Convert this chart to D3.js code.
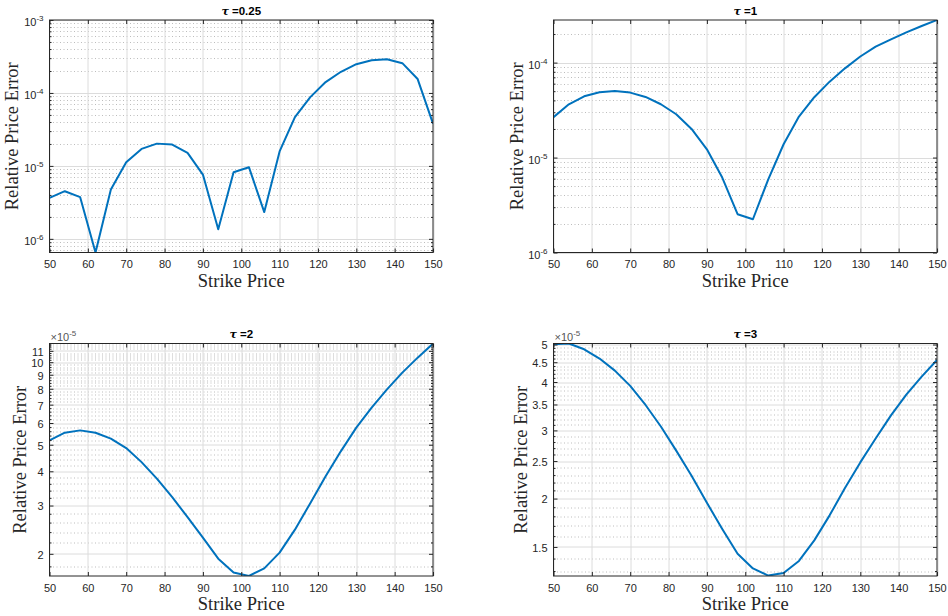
<!DOCTYPE html>
<html><head><meta charset="utf-8">
<script src="https://cdn.jsdelivr.net/npm/d3@7"></script>
<style>
html,body{margin:0;padding:0;background:#fff;}
svg{display:block;}
</style></head>
<body>
<svg id="chart" width="948" height="616"></svg>
<script>
// ---------------- data ----------------
const strikes = [50,54,58,62,66,70,74,78,82,86,90,94,98,102,106,110,114,118,122,126,130,134,138,142,146,150];
const errTau025 = [3.65e-6,4.5e-6,3.73e-6,6.5e-7,4.75e-6,1.12e-5,1.71e-5,2.02e-5,1.96e-5,1.51e-5,7.6e-6,1.35e-6,8.2e-6,9.6e-6,2.33e-6,1.58e-5,4.67e-5,8.77e-5,1.41e-4,1.95e-4,2.48e-4,2.81e-4,2.9e-4,2.56e-4,1.55e-4,3.79e-5];
const errTau1 = [2.66e-5,3.64e-5,4.42e-5,4.88e-5,5.03e-5,4.83e-5,4.35e-5,3.64e-5,2.86e-5,2.0e-5,1.22e-5,6.15e-6,2.53e-6,2.24e-6,5.9e-6,1.38e-5,2.7e-5,4.32e-5,6.3e-5,8.7e-5,1.16e-4,1.47e-4,1.76e-4,2.08e-4,2.43e-4,2.81e-4];
const errTau2 = [5.19e-5,5.53e-5,5.64e-5,5.53e-5,5.26e-5,4.86e-5,4.32e-5,3.76e-5,3.22e-5,2.72e-5,2.29e-5,1.92e-5,1.71e-5,1.66e-5,1.77e-5,2.02e-5,2.45e-5,3.06e-5,3.84e-5,4.74e-5,5.77e-5,6.83e-5,7.96e-5,9.16e-5,10.39e-5,11.69e-5];
const errTau3 = [5.01e-5,5.03e-5,4.86e-5,4.60e-5,4.28e-5,3.91e-5,3.49e-5,3.07e-5,2.66e-5,2.29e-5,1.95e-5,1.67e-5,1.44e-5,1.32e-5,1.265e-5,1.285e-5,1.38e-5,1.56e-5,1.81e-5,2.13e-5,2.48e-5,2.86e-5,3.28e-5,3.71e-5,4.13e-5,4.56e-5];

const titles = ["0.25","1","2","3"];
const xTicks = [50,60,70,80,90,100,110,120,130,140,150];
const yLimits = [[6.5e-7,1e-3],[1e-6,2.81e-4],[1.66e-5,11.7e-5],[1.262e-5,5.03e-5]];
// major y ticks
const yMajor025 = [1e-6,1e-5,1e-4,1e-3];
const yMajor1 = [1e-6,1e-5,1e-4];
const yMajor2 = [2e-5,3e-5,4e-5,5e-5,6e-5,7e-5,8e-5,9e-5,10e-5,11e-5];
const yMajor3 = [1.5e-5,2e-5,2.5e-5,3e-5,3.5e-5,4e-5,4.5e-5,5e-5];
// minor y ticks (mantissas / steps)
const logMinorMantissa = [2,3,4,5,6,7,8,9];
const minorStep2 = 0.2e-5;
const minorStep3 = 0.1e-5;

// ---------------- layout ----------------
const svg = d3.select("#chart");
const colX = [49.5, 553.5], W = 383.5;
const rowY = [20, 343.5], H = 232.5;
const panels = [
  {data: errTau025, title: titles[0], lim: yLimits[0], major: yMajor025, log: true, col:0,row:0, ylabX: 18},
  {data: errTau1,   title: titles[1], lim: yLimits[1], major: yMajor1,   log: true, col:1,row:0, ylabX: 522.5},
  {data: errTau2,   title: titles[2], lim: yLimits[2], major: yMajor2,   log: false, step: minorStep2, col:0,row:1, ylabX: 25.5},
  {data: errTau3,   title: titles[3], lim: yLimits[3], major: yMajor3,   log: false, step: minorStep3, col:1,row:1, ylabX: 526.5}
];

const tickCol = "#262626";
const labelFont = "'Liberation Sans', Arial, Helvetica, sans-serif";

function minorTicks(p){
  const [lo,hi] = p.lim;
  const out = [];
  if (p.log){
    for (let e = Math.floor(Math.log10(lo)); e <= Math.ceil(Math.log10(hi)); e++){
      logMinorMantissa.forEach(m => { const v = m*Math.pow(10,e); if (v>=lo && v<=hi) out.push(v); });
    }
  } else {
    const n0 = Math.ceil(lo/p.step - 1e-6), n1 = Math.floor(hi/p.step + 1e-6);
    for (let n = n0; n <= n1; n++){
      const v = n*p.step;
      if (!p.major.some(m => Math.abs(m - v) < p.step*0.01)) out.push(v);
    }
  }
  return out;
}

panels.forEach(p => {
  const x0 = colX[p.col], y0 = rowY[p.row];
  const g = svg.append("g").attr("transform", `translate(${x0},${y0})`);
  const x = d3.scaleLinear().domain([50,150]).range([0,W]);
  const y = d3.scaleLog().domain(p.lim).range([H,0]);
  const minors = minorTicks(p);
  const clipId = "clip" + p.col + p.row;
  g.append("clipPath").attr("id", clipId).append("rect").attr("width", W).attr("height", H);

  // minor grid
  g.append("g").selectAll("line").data(minors).join("line")
    .attr("x1",0).attr("x2",W)
    .attr("y1", d => Math.round(y(d))+0.5).attr("y2", d => Math.round(y(d))+0.5)
    .attr("stroke","#bdbdbd").attr("stroke-width",1).attr("stroke-dasharray","1,2.5");
  // major grid
  g.append("g").selectAll("line").data(p.major).join("line")
    .attr("x1",0).attr("x2",W)
    .attr("y1", d => Math.round(y(d))+0.5).attr("y2", d => Math.round(y(d))+0.5)
    .attr("stroke","#dcdcdc").attr("stroke-width",1);
  g.append("g").selectAll("line").data(xTicks).join("line")
    .attr("y1",0).attr("y2",H)
    .attr("x1", d => Math.round(x(d))+0.5).attr("x2", d => Math.round(x(d))+0.5)
    .attr("stroke","#dcdcdc").attr("stroke-width",1);

  // data line
  const pts = strikes.map((s,i) => [s, p.data[i]]);
  g.append("path").datum(pts)
    .attr("clip-path", `url(#${clipId})`)
    .attr("fill","none").attr("stroke","#0072BD").attr("stroke-width",2)
    .attr("stroke-linejoin","round")
    .attr("d", d3.line().x(d => x(d[0])).y(d => y(d[1])));

  // axes
  g.append("g").attr("transform",`translate(0,${H})`)
    .call(d3.axisBottom(x).tickValues(xTicks).tickSize(-4).tickPadding(8).tickFormat(d3.format("d")));
  g.append("g").call(d3.axisTop(x).tickValues(xTicks).tickSize(-4).tickFormat(""));
  const ay = g.append("g").call(d3.axisLeft(y).tickValues(p.major).tickSize(-4).tickPadding(6)
    .tickFormat(d => p.log ? "10" : d3.format("~g")(+(d*1e5).toFixed(2))));
  g.append("g").attr("transform",`translate(${W},0)`).call(d3.axisRight(y).tickValues(p.major).tickSize(-4).tickFormat(""));
  g.append("g").call(d3.axisLeft(y).tickValues(minors).tickSize(-2).tickFormat(""));
  g.append("g").attr("transform",`translate(${W},0)`).call(d3.axisRight(y).tickValues(minors).tickSize(-2).tickFormat(""));

  g.selectAll(".domain").remove();
  g.selectAll(".tick line").attr("stroke", tickCol);
  g.selectAll(".tick text").attr("fill", tickCol).style("font-family", labelFont).style("font-size","11px");

  ay.selectAll(".tick text").attr("dy", p.log ? "0.5em" : "0.4em");
  if (p.log){
    ay.selectAll(".tick text").each(function(d){
      const t = d3.select(this);
      const e = Math.round(Math.log10(d));
      t.text("");
      t.append("tspan").text("10");
      t.append("tspan").attr("dy","-5").style("font-size","8px").text(String(e));
    });
  } else {
    g.append("text").attr("x",1).attr("y",-3)
      .style("font-family",labelFont).style("font-size","11px").attr("fill","#555")
      .call(t => { t.append("tspan").text("\u00d710"); t.append("tspan").attr("dy","-5").style("font-size","8px").text("-5"); });
  }

  // box
  g.append("rect").attr("x",0).attr("y",0).attr("width",W).attr("height",H)
    .attr("fill","none").attr("stroke",tickCol).attr("stroke-width",1);

  // title
  const tt = svg.append("text").attr("x", x0 + W/2).attr("y", y0 - 5.5)
    .attr("text-anchor","middle").style("font-family",labelFont).style("font-size","11.5px")
    .style("font-weight","bold").attr("fill","#000");
  tt.append("tspan").style("font-style","italic").style("font-family","'DejaVu Serif', serif").style("font-size","11px").text("\u03c4");
  tt.append("tspan").text(" =" + p.title);

  // axis labels
  svg.append("text").attr("x", x0 + W/2).attr("y", y0 + H + 34)
    .attr("text-anchor","middle").style("font-family","'Liberation Serif', 'Times New Roman', serif")
    .style("font-size","18.5px").attr("fill","#262626").text("Strike Price");
  svg.append("text").attr("transform", `translate(${p.ylabX},${y0 + H/2}) rotate(-90)`)
    .attr("text-anchor","middle").style("font-family","'Liberation Serif', 'Times New Roman', serif")
    .style("font-size","18.5px").attr("fill","#262626").text("Relative Price Error");
});
</script>
</body></html>
